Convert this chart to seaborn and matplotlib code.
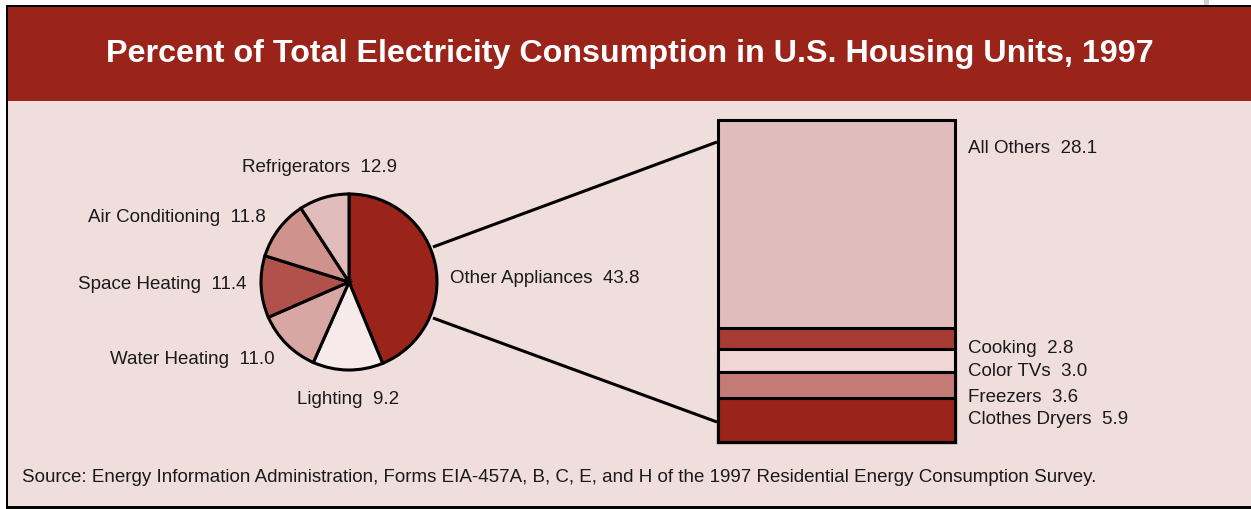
import numpy as np
import matplotlib
matplotlib.use("Agg")
import matplotlib.pyplot as plt
import seaborn as sns
from matplotlib.patches import Rectangle

# dados (fatias na ordem em que sao desenhadas, sentido horario a partir do topo)
pie_labels = ["Other Appliances", "Refrigerators", "Air Conditioning",
              "Space Heating", "Water Heating", "Lighting"]
pie_values = [43.8, 12.9, 11.8, 11.4, 11.0, 9.2]

bar_labels = ["Clothes Dryers", "Freezers", "Color TVs", "Cooking", "All Others"]
bar_values = [5.9, 3.6, 3.0, 2.8, 28.1]

title = "Percent of Total Electricity Consumption in U.S. Housing Units, 1997"
source = ("Source: Energy Information Administration, Forms EIA-457A, B, C, E, "
          "and H of the 1997 Residential Energy Consumption Survey.")

# cores
DARK_RED = "#9a231a"
BODY = "#f0dedd"
TXT = "#1a1a1a"
pie_colors = ["#9a231a", "#f6ebea", "#d8a7a3", "#b0524b", "#cf928c", "#e0bdbb"]
bar_colors = ["#9a231a", "#c47b75", "#f0d6d5", "#a63b33", "#e0bdbb"]

sns.set_theme(style="white")
plt.rcParams["font.family"] = ["Liberation Sans", "DejaVu Sans"]

W, H = 1251, 510
fig = plt.figure(figsize=(W / 100, H / 100), dpi=100, facecolor="white")

# fundo em coordenadas de pixel
bg = fig.add_axes([0, 0, 1, 1])
bg.set_xlim(0, W)
bg.set_ylim(H, 0)
bg.axis("off")
bg.add_patch(Rectangle((1204, 0), 5, 7, color="#d0d0d0", lw=0))
bg.add_patch(Rectangle((6, 6), W, 504, color="black", lw=0))
bg.add_patch(Rectangle((8, 8), W, 94, color=DARK_RED, lw=0))
bg.add_patch(Rectangle((8, 102), W, 405, color=BODY, lw=0))

bg.text(630, 54, title, color="white", fontsize=23.2, fontweight="bold",
        ha="center", va="center")
bg.text(22, 478, source, color=TXT, fontsize=13.5, ha="left", va="center")

# linhas de ligacao
bg.plot([433, 717], [248, 143], color="black", lw=2.2, solid_capstyle="butt")
bg.plot([433, 717], [319, 423], color="black", lw=2.2, solid_capstyle="butt")

# pizza
cx, cy, r = 349, 283, 88
ax_pie = fig.add_axes([(cx - r) / W, (H - cy - r) / H, 2 * r / W, 2 * r / H])
wedges, _ = ax_pie.pie(pie_values, colors=pie_colors, startangle=90,
                       counterclock=False, radius=1,
                       wedgeprops=dict(edgecolor="black", linewidth=2.2))
for w in wedges:
    w.set_clip_on(False)
ax_pie.set_xlim(-1, 1)
ax_pie.set_ylim(-1, 1)
ax_pie.set_aspect("equal")
ax_pie.axis("off")

pie_text_pos = {
    "Other Appliances": (450, 279, "left"),
    "Refrigerators": (397, 168, "right"),
    "Air Conditioning": (266, 218, "right"),
    "Space Heating": (247, 285, "right"),
    "Water Heating": (275, 360, "right"),
    "Lighting": (399, 400, "right"),
}
for name, val in zip(pie_labels, pie_values):
    px, py, ha = pie_text_pos[name]
    bg.text(px, py, f"{name}  {val:.1f}", fontsize=13.5, color=TXT,
            ha=ha, va="center")

# barra empilhada (sobreposicao de totais acumulados)
x0, x1, y0, y1 = 718, 955, 121, 443
ax_bar = fig.add_axes([x0 / W, (H - y1) / H, (x1 - x0) / W, (y1 - y0) / H])
cum = np.cumsum(bar_values)
for total, col in list(zip(cum, bar_colors))[::-1]:
    sns.barplot(x=["seg"], y=[total], color=col, saturation=1, width=1,
                edgecolor="black", linewidth=2.2, ax=ax_bar)
for p in ax_bar.patches:
    p.set_clip_on(False)
ax_bar.set_xlim(-0.5, 0.5)
ax_bar.set_ylim(0, cum[-1])
ax_bar.axis("off")

bar_text_y = [420, 398, 372, 349, 149]
for name, val, py in zip(bar_labels, bar_values, bar_text_y):
    bg.text(968, py, f"{name}  {val:.1f}", fontsize=13.5, color=TXT,
            ha="left", va="center")

fig.savefig("out.png", dpi=100, facecolor="white")
